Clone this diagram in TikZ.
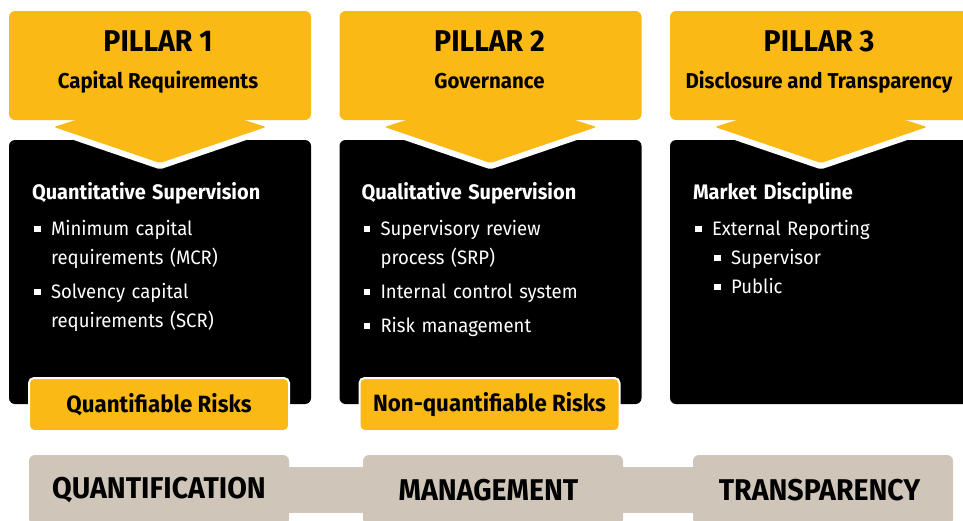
\documentclass[tikz,border=0pt]{standalone}
\usepackage{fontspec}
\setmainfont{Fira Sans}[FakeStretch=0.95]
\usetikzlibrary{calc,backgrounds}

\definecolor{pillaryellow}{RGB}{251,185,22}
\definecolor{bandbeige}{RGB}{208,197,185}

% square bullets with a hanging indent
\newcommand{\sqbox}{\hspace{2pt}\raisebox{3.5pt}{\rule{6.5pt}{6.5pt}}}
\newcommand{\pitem}[1]{\par\hangindent=19pt\hangafter=1\noindent\makebox[19pt][l]{\sqbox}#1}
\newcommand{\psubitem}[1]{\par\vspace{-\parskip}\hangindent=38pt\hangafter=1\noindent\hspace*{19pt}\makebox[19pt][l]{\sqbox}#1}

\begin{document}
\begin{tikzpicture}[
    x=1pt, y=-1pt,
    pillarhead/.style={
        fill=pillaryellow,
        rounded corners=6pt,
        minimum width=302pt,
        minimum height=109pt,
        inner sep=0pt
    },
    pillarbody/.style={
        fill=black,
        rounded corners=6pt,
        minimum width=302pt,
        minimum height=264pt,
        inner sep=0pt
    },
    headtitle/.style={anchor=base, font=\fontsize{30}{30}\selectfont\bfseries},
    headsub/.style={anchor=base, font=\fontsize{21.5}{21.5}\selectfont\bfseries},
    bodytext/.style={
        anchor=base west,
        text=white,
        text width=275pt,
        align=left,
        inner sep=0pt,
        font=\fontsize{19.5}{29}\selectfont,
        execute at begin node={\setlength{\parskip}{5pt}}
    },
    risktag/.style={
        fill=pillaryellow,
        draw=white,
        line width=2pt,
        rounded corners=5pt,
        minimum width=260pt,
        minimum height=53pt,
        inner sep=0pt,
        font=\fontsize{23.5}{23.5}\selectfont\bfseries
    },
    stagebox/.style={
        fill=bandbeige,
        rounded corners=6pt,
        minimum width=260pt,
        minimum height=70pt,
        inner sep=0pt,
        font=\fontsize{30}{30}\selectfont\bfseries
    },
    stagelink/.style={draw=bandbeige, line width=46pt}
]
    \clip (0,0) rectangle (963,520);

    % black bodies
    \node[pillarbody] (body1) at (160,272) {};
    \node[pillarbody] (body2) at (490.5,272) {};
    \node[pillarbody] (body3) at (821,272) {};

    % chevrons, white rim cuts into the bodies
    \filldraw[pillaryellow, draw=white, line width=12pt, line join=round] (82,118) -- (54,127) -- (160,163) -- (266,127) -- (238,118) -- cycle;
    \filldraw[pillaryellow, draw=white, line width=12pt, line join=round] (412.5,118) -- (384.5,127) -- (490.5,163) -- (596.5,127) -- (568.5,118) -- cycle;
    \filldraw[pillaryellow, draw=white, line width=12pt, line join=round] (743,118) -- (715,127) -- (821,163) -- (927,127) -- (899,118) -- cycle;

    % yellow heads
    \node[pillarhead] (head1) at (160,65.5) {};
    \node[pillarhead] (head2) at (490.5,65.5) {};
    \node[pillarhead] (head3) at (821,65.5) {};

    \fill[pillaryellow, rounded corners=2pt] (82,118) -- (54,127) -- (160,163) -- (266,127) -- (238,118) -- cycle;
    \fill[pillaryellow, rounded corners=2pt] (412.5,118) -- (384.5,127) -- (490.5,163) -- (596.5,127) -- (568.5,118) -- cycle;
    \fill[pillaryellow, rounded corners=2pt] (743,118) -- (715,127) -- (821,163) -- (927,127) -- (899,118) -- cycle;

    \node[headtitle] (title1) at ($(head1.north)+(-2,41)$) {PILLAR 1};
    \node[headsub] (sub1) at ($(head1.north)+(-2,78)$) {Capital Requirements};
    \node[headtitle] (title2) at ($(head2.north)+(-1,41)$) {PILLAR 2};
    \node[headsub] (sub2) at ($(head2.north)+(-1,78)$) {Governance};
    \node[headtitle] (title3) at ($(head3.north)+(-2,41)$) {PILLAR 3};
    \node[headsub] (sub3) at ($(head3.north)+(-2,78)$) {Disclosure and Transparency};

    % supervision lists
    \node[bodytext] (list1) at ($(body1.north west)+(23,60)$) {%
        {\bfseries\fontsize{21}{29}\selectfont Quantitative Supervision\par}\vspace{2pt}
        \pitem{Minimum capital\newline requirements (MCR)}
        \pitem{Solvency capital\newline requirements (SCR)}\par};
    \node[bodytext] (list2) at ($(body2.north west)+(22,60)$) {%
        {\bfseries\fontsize{21}{29}\selectfont Qualitative Supervision\par}\vspace{2pt}
        \pitem{Supervisory review\newline process (SRP)}
        \pitem{Internal control system}
        \pitem{Risk management}\par};
    \node[bodytext] (list3) at ($(body3.north west)+(23,60)$) {%
        {\bfseries\fontsize{21}{29}\selectfont Market Discipline\par}\vspace{2pt}
        \pitem{External Reporting}
        \psubitem{Supervisor}
        \psubitem{Public}\par};

    % risk tags over the body bottoms
    \node[risktag] (risk1) at (159,404.5) {Quantifiable Risks};
    \node[risktag] (risk2) at (489.5,404.5) {Non-quantifiable Risks};

    % bottom band
    \node[stagebox] (stage1) at (159,490) {QUANTIFICATION};
    \node[stagebox] (stage2) at (493,490) {\hspace*{-9pt}MANAGEMENT};
    \node[stagebox] (stage3) at (823,490) {\hspace*{-7pt}TRANSPARENCY};

    \begin{scope}[on background layer]
        \draw[stagelink] (stage1) -- (stage2);
        \draw[stagelink] (stage2) -- (stage3);
    \end{scope}
\end{tikzpicture}
\end{document}
